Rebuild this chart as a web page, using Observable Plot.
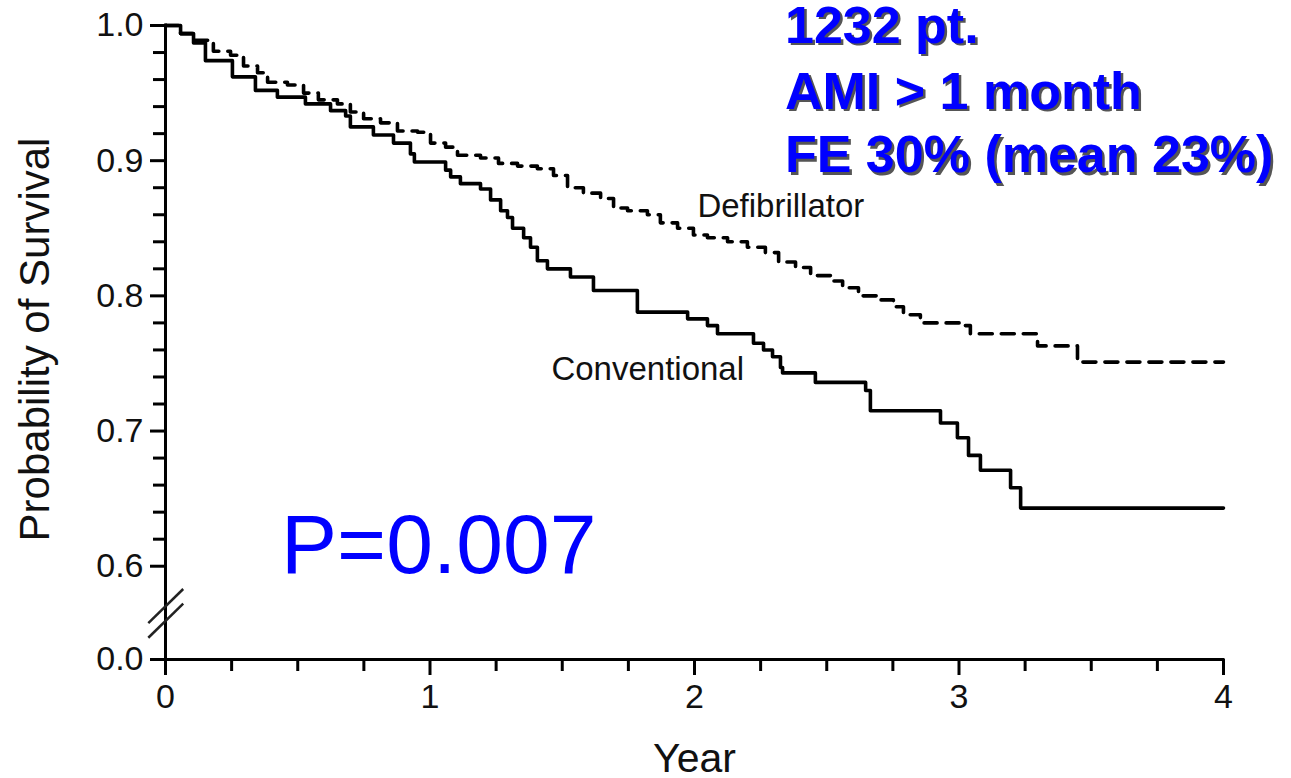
<!DOCTYPE html>
<html><head><meta charset="utf-8">
<script src="https://cdn.jsdelivr.net/npm/d3@7"></script>
<script src="https://cdn.jsdelivr.net/npm/@observablehq/plot@0.6"></script>
<style>html,body{margin:0;padding:0;background:#fff;}</style>
</head><body><div id="chart"></div>
<script>
// Kaplan–Meier step data
const convYears = [0, 0.057, 0.106, 0.151, 0.253, 0.340, 0.423, 0.529, 0.624, 0.681, 0.699, 0.786, 0.862, 0.926, 0.941, 1.059, 1.078, 1.115, 1.191, 1.229, 1.267, 1.293, 1.312, 1.354, 1.380, 1.406, 1.444, 1.531, 1.618, 1.784, 1.974, 2.049, 2.087, 2.223, 2.261, 2.295, 2.325, 2.333, 2.457, 2.647, 2.665, 2.930, 2.994, 3.036, 3.081, 3.195, 3.233, 4.0];
const convSurv  = [1.0, 0.994, 0.987, 0.974, 0.962, 0.952, 0.947, 0.942, 0.937, 0.933, 0.925, 0.919, 0.913, 0.905, 0.899, 0.893, 0.888, 0.883, 0.879, 0.871, 0.863, 0.858, 0.850, 0.843, 0.836, 0.826, 0.820, 0.814, 0.804, 0.788, 0.783, 0.778, 0.772, 0.765, 0.760, 0.755, 0.747, 0.743, 0.736, 0.730, 0.715, 0.706, 0.695, 0.682, 0.671, 0.658, 0.643, 0.643];
const defYears  = [0, 0.057, 0.106, 0.181, 0.246, 0.295, 0.348, 0.386, 0.461, 0.522, 0.578, 0.650, 0.699, 0.749, 0.813, 0.877, 0.953, 1.002, 1.059, 1.104, 1.191, 1.259, 1.331, 1.406, 1.467, 1.520, 1.580, 1.645, 1.694, 1.747, 1.822, 1.871, 1.936, 1.996, 2.049, 2.125, 2.200, 2.268, 2.318, 2.382, 2.439, 2.514, 2.560, 2.620, 2.692, 2.752, 2.790, 2.854, 3.017, 3.043, 3.297, 3.448, 4.0];
const defSurv   = [1.0, 0.994, 0.989, 0.981, 0.978, 0.970, 0.965, 0.958, 0.956, 0.950, 0.945, 0.942, 0.936, 0.931, 0.928, 0.922, 0.921, 0.913, 0.910, 0.904, 0.902, 0.898, 0.896, 0.894, 0.889, 0.880, 0.876, 0.872, 0.865, 0.863, 0.860, 0.854, 0.850, 0.845, 0.843, 0.840, 0.836, 0.832, 0.825, 0.821, 0.815, 0.811, 0.806, 0.800, 0.797, 0.792, 0.786, 0.780, 0.778, 0.772, 0.763, 0.751, 0.751];

const xTicksMajor = [0, 1, 2, 3, 4];
const xTicksMinor = [0.25, 0.5, 0.75, 1.25, 1.5, 1.75, 2.25, 2.5, 2.75, 3.25, 3.5, 3.75];
const yTicksMajor = [0, 0.6, 0.7, 0.8, 0.9, 1.0];
const yTicksMinor = [0.62, 0.64, 0.66, 0.68, 0.72, 0.74, 0.76, 0.78, 0.82, 0.84, 0.86, 0.88, 0.92, 0.94, 0.96, 0.98];

const seriesLabels = ["Defibrillator", "Conventional"];
const infoLines = ["1232 pt.", "AMI > 1 month", "FE 30% (mean 23%)"];
const pLabel = "P=0.007";
const xTitle = "Year";
const yTitle = "Probability of Survival";

const FONT = "'Liberation Sans', Arial, Helvetica, sans-serif";
const BLUE = "#0000ff";

// broken axis: 0 .. 0.6 is compressed into a short segment below 0.6
const BASE = 0.531;
const yb = v => v < 0.6 ? BASE + v * (0.6 - BASE) / 0.6 : v;
const yLabel = p => (p < 0.59 ? 0 : p).toFixed(1);

const conv = convYears.map((t, i) => ({year: t, surv: convSurv[i]}));
const defi = defYears.map((t, i) => ({year: t, surv: defSurv[i]}));
const breaks = [
  {x1: -0.065, y1: 0.234, x2: 0.067, y2: 0.4535},
  {x1: -0.065, y1: 0.140, x2: 0.067, y2: 0.359}
];
const infoY = [0.9874, 0.9386, 0.8913];

const marks = [
  // axes lines
  Plot.ruleX([0], {y1: yb(0), y2: 1, stroke: "#000", strokeWidth: 3, strokeLinecap: "square"}),
  Plot.ruleY([yb(0)], {x1: 0, x2: 4, stroke: "#000", strokeWidth: 3, strokeLinecap: "square"}),
  Plot.axisY({ticks: yTicksMajor.map(yb), tickSize: 15, tickPadding: 7, fontSize: 34, strokeWidth: 3,
    tickFormat: yLabel, label: null, fill: "#111"}),
  Plot.axisY({ticks: yTicksMinor.map(yb), tickSize: 12, text: null, label: null, strokeWidth: 3}),
  Plot.axisX({ticks: xTicksMajor, tickSize: 16, tickPadding: 8, fontSize: 34, strokeWidth: 3,
    tickFormat: d => String(d), label: null, fill: "#111"}),
  Plot.axisX({ticks: xTicksMinor, tickSize: 12, text: null, label: null, strokeWidth: 3}),
  // axis break
  Plot.link(breaks, {x1: "x1", y1: d => yb(d.y1), x2: "x2", y2: d => yb(d.y2), stroke: "#222", strokeWidth: 2.5}),
  // curves
  Plot.line(defi, {x: "year", y: d => yb(d.surv), curve: "step-after", stroke: "#000", strokeWidth: 3.6, strokeDasharray: "13,9"}),
  Plot.line(conv, {x: "year", y: d => yb(d.surv), curve: "step-after", stroke: "#000", strokeWidth: 3.6}),
  // series labels
  Plot.text([seriesLabels[0]], {x: 2.011, y: yb(0.858), text: d => d, fontSize: 33, textAnchor: "start", lineAnchor: "bottom", fill: "#111"}),
  Plot.text([seriesLabels[1]], {x: 1.459, y: yb(0.7375), text: d => d, fontSize: 33, textAnchor: "start", lineAnchor: "bottom", fill: "#111"}),
  // P value
  Plot.text([pLabel], {x: 0.437, y: yb(0.555), text: d => d, fontSize: 84, textAnchor: "start", lineAnchor: "bottom", fill: BLUE}),
  // info text with shadow
  Plot.text(infoLines, {x: 2.342, y: (d, i) => yb(infoY[i]), text: d => d, fontSize: 52, fontWeight: "bold",
    textAnchor: "start", lineAnchor: "bottom", fill: "#555", dx: 2.5, dy: 2.5}),
  Plot.text(infoLines, {x: 2.342, y: (d, i) => yb(infoY[i]), text: d => d, fontSize: 52, fontWeight: "bold",
    textAnchor: "start", lineAnchor: "bottom", fill: BLUE}),
  // axis titles
  Plot.text([yTitle], {frameAnchor: "left", dx: -130, dy: -3, rotate: -90, text: d => d, fontSize: 42,
    textAnchor: "middle", lineAnchor: "middle", fill: "#111"}),
  Plot.text([xTitle], {frameAnchor: "bottom", dy: 112, text: d => d, fontSize: 41,
    textAnchor: "middle", lineAnchor: "bottom", fill: "#111"})
];

const chart = Plot.plot({
  width: 1291, height: 778,
  marginLeft: 165, marginRight: 68, marginTop: 25, marginBottom: 119,
  style: {fontFamily: FONT, background: "#fff", color: "#000", overflow: "visible"},
  x: {domain: [0, 4], axis: null},
  y: {domain: [BASE, 1.0], axis: null},
  marks
});
document.getElementById("chart").appendChild(chart);
</script>
</body></html>
